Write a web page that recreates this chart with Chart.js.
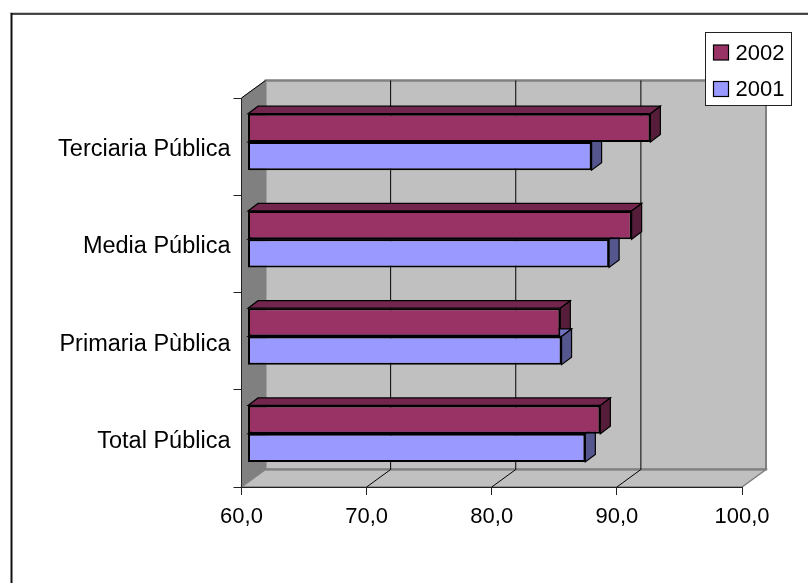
<!DOCTYPE html>
<html>
<head>
<meta charset="utf-8">
<style>
  html, body { margin: 0; padding: 0; background: #fff; }
  canvas { display: block; }
</style>
<script src="https://cdn.jsdelivr.net/npm/chart.js@4/dist/chart.umd.min.js"></script>
</head>
<body>
<canvas id="chart" width="808" height="583"></canvas>
<script>
const categories = ['Terciaria Pública', 'Media Pública', 'Primaria Pùblica', 'Total Pública'];
const values2002 = [92.2, 90.7, 85.0, 88.2];
const values2001 = [87.5, 88.9, 85.1, 87.0];
const xTicks     = [60, 70, 80, 90, 100];

const FONT = '"Liberation Sans", Arial, sans-serif';

/* fondo 3D: profundidad del piso y de las barras */
const DEPTH_X = 24, DEPTH_Y = -17.5;
const BAR_OFF_X = 6, BAR_OFF_Y = -4.7;
const BAR_DX = 10, BAR_DY = -7.5;

function poly(ctx, pts, fill, stroke, lw) {
  ctx.beginPath();
  pts.forEach((p, i) => i ? ctx.lineTo(p[0], p[1]) : ctx.moveTo(p[0], p[1]));
  ctx.closePath();
  if (fill) { ctx.fillStyle = fill; ctx.fill(); }
  if (stroke) { ctx.strokeStyle = stroke; ctx.lineWidth = lw; ctx.stroke(); }
}

function line(ctx, x1, y1, x2, y2, color, lw) {
  ctx.beginPath();
  ctx.moveTo(x1, y1);
  ctx.lineTo(x2, y2);
  ctx.strokeStyle = color;
  ctx.lineWidth = lw;
  ctx.stroke();
}

const walls = {
  id: 'walls',
  beforeDraw(chart) {
    const { ctx, chartArea: a, scales: { x } } = chart;
    const dx = DEPTH_X, dy = DEPTH_Y;
    ctx.save();
    /* marco exterior: solo se ve arriba y a la izquierda */
    line(ctx, 10, 13, 808, 13, '#999', 1);
    line(ctx, 11, 14, 808, 14, '#111', 1.5);
    line(ctx, 11.5, 13, 11.5, 583, '#111', 2);
    /* pared del fondo, pared izquierda, piso */
    poly(ctx, [[a.left + dx, a.top + dy], [a.right + dx, a.top + dy], [a.right + dx, a.bottom + dy], [a.left + dx, a.bottom + dy]], '#C0C0C0', '#808080', 2);
    poly(ctx, [[a.left, a.top], [a.left + dx, a.top + dy], [a.left + dx, a.bottom + dy], [a.left, a.bottom]], '#808080', '#808080', 1);
    poly(ctx, [[a.left, a.bottom], [a.left + dx, a.bottom + dy], [a.right + dx, a.bottom + dy], [a.right, a.bottom]], '#C0C0C0', '#808080', 1.5);
    line(ctx, a.left + dx, a.top + dy, a.right + dx, a.top + dy, '#808080', 2);
    line(ctx, a.left + dx, a.bottom + dy, a.right + dx, a.bottom + dy, '#808080', 2);
    line(ctx, a.left, a.top, a.left + dx, a.top + dy, '#000', 1);
    /* lineas de division */
    xTicks.slice(1, -1).forEach(v => {
      const px = x.getPixelForValue(v);
      line(ctx, px, a.bottom, px + dx, a.bottom + dy, '#000', 1);
      line(ctx, px + dx, a.bottom + dy, px + dx, a.top + dy, '#000', 1);
    });
    ctx.restore();
  },
};

const bars3d = {
  id: 'bars3d',
  beforeDatasetsDraw(chart) {
    const { ctx } = chart;
    ctx.save();
    ctx.translate(BAR_OFF_X, BAR_OFF_Y);
    chart.data.datasets.forEach((ds, i) => {
      chart.getDatasetMeta(i).data.forEach(bar => {
        const { x, y, base, height } = bar.getProps(['x', 'y', 'base', 'height'], true);
        const t = y - height / 2, b = y + height / 2;
        poly(ctx, [[base, t], [base + BAR_DX, t + BAR_DY], [x + BAR_DX, t + BAR_DY], [x, t]], ds.topColor, '#000', 1.2);
        poly(ctx, [[x, t], [x + BAR_DX, t + BAR_DY], [x + BAR_DX, b + BAR_DY], [x, b]], ds.sideColor, '#000', 1.2);
      });
    });
    /* las caras frontales se dibujan desplazadas igual */
  },
  afterDatasetsDraw(chart) {
    chart.ctx.restore();
    drawLegend(chart);
  },
};

function drawLegend(chart) {
  const { ctx } = chart;
  ctx.save();
  ctx.fillStyle = '#fff';
  ctx.fillRect(705.5, 32.5, 86, 73);
  ctx.strokeStyle = '#222';
  ctx.lineWidth = 1;
  ctx.strokeRect(705.5, 32.5, 86, 73);
  ctx.font = '22px ' + FONT;
  ctx.textBaseline = 'middle';
  chart.data.datasets.forEach((ds, i) => {
    const cy = 52.5 + i * 36.5;
    ctx.fillStyle = ds.backgroundColor;
    ctx.fillRect(713.5, cy - 7.5, 15, 15);
    ctx.strokeStyle = '#000';
    ctx.lineWidth = 1.2;
    ctx.strokeRect(713.5, cy - 7.5, 15, 15);
    ctx.fillStyle = '#000';
    ctx.fillText(ds.label, 735.5, cy + 1);
  });
  ctx.restore();
}

new Chart(document.getElementById('chart'), {
  type: 'bar',
  plugins: [walls, bars3d],
  data: {
    labels: categories,
    datasets: [
      { label: '2002', data: values2002, base: 60, backgroundColor: '#993366', topColor: '#73264D', sideColor: '#561D3A', borderColor: '#000', borderWidth: 2, borderSkipped: false, clip: false },
      { label: '2001', data: values2001, base: 60, backgroundColor: '#9999FF', topColor: '#7373BF', sideColor: '#56568F', borderColor: '#000', borderWidth: 2, borderSkipped: false, clip: false },
    ],
  },
  options: {
    indexAxis: 'y',
    responsive: false,
    animation: false,
    events: [],
    layout: { padding: { top: 98, right: 66, left: 0, bottom: 0 } },
    datasets: { bar: { categoryPercentage: 0.58, barPercentage: 1 } },
    plugins: { legend: { display: false }, tooltip: { enabled: false } },
    scales: {
      x: {
        type: 'linear',
        min: 60,
        max: 100,
        afterFit: s => { s.height = 96; },
        afterBuildTicks: s => { s.ticks = xTicks.map(v => ({ value: v })); },
        grid: { drawOnChartArea: false, drawTicks: true, tickLength: 8, color: '#222', lineWidth: 1 },
        border: { display: true, color: '#222', width: 1 },
        ticks: { color: '#000', font: { family: FONT, size: 22 }, padding: 9, maxRotation: 0, callback: v => v.toFixed(1).replace('.', ',') },
      },
      y: {
        afterFit: s => { s.width = 241.5; },
        grid: { drawOnChartArea: false, drawTicks: true, tickLength: 8, color: '#222', lineWidth: 1 },
        border: { display: true, color: '#222', width: 1 },
        ticks: { color: '#000', font: { family: FONT, size: 23.5 }, padding: 3, labelOffset: 3 },
      },
    },
  },
});
</script>
</body>
</html>
